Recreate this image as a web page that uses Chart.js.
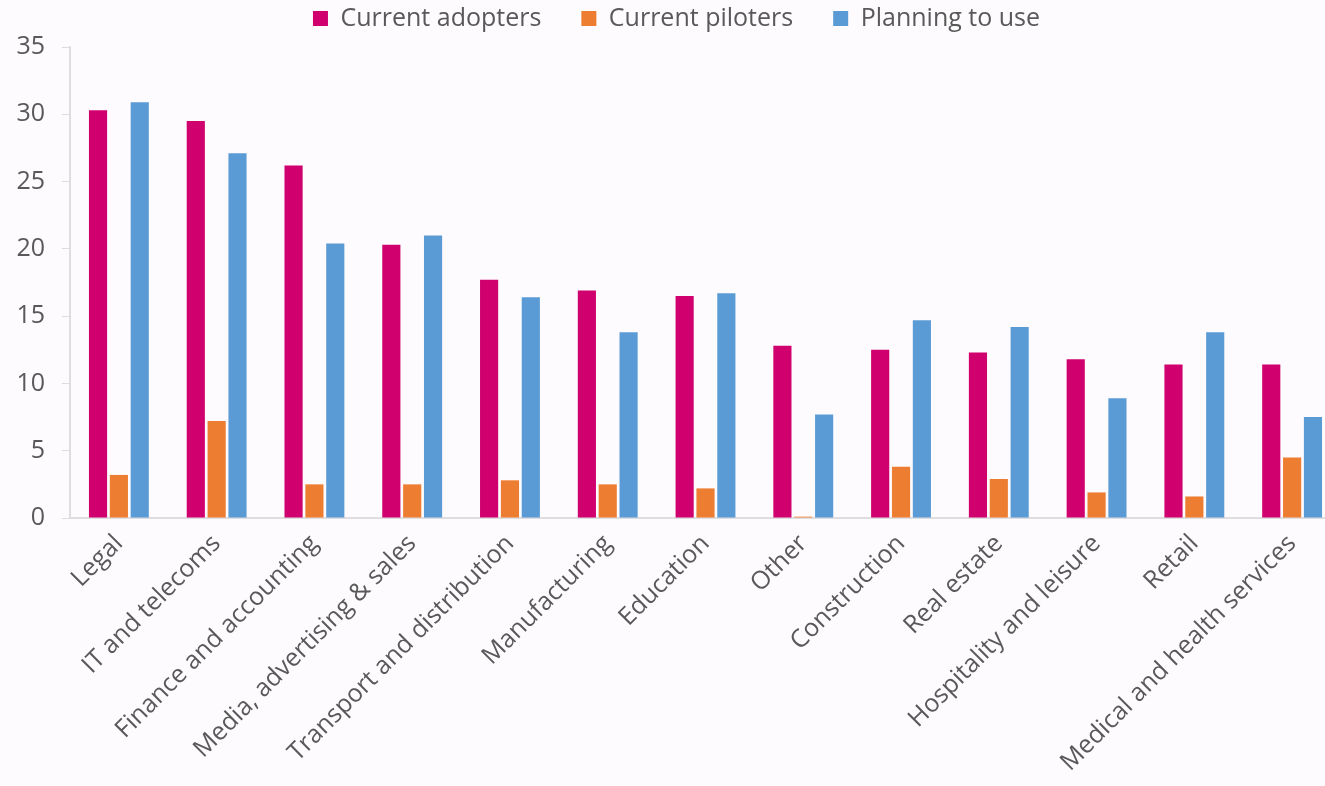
<!DOCTYPE html>
<html>
<head>
<meta charset="utf-8">
<script src="https://cdn.jsdelivr.net/npm/chart.js@4"></script>
<style>
  html, body { margin: 0; padding: 0; background: #fdfbfd; overflow: hidden; }
  /* plot runs a bit past the right edge, like the cropped original */
  #wrap { width: 1341px; height: 786px; }
</style>
</head>
<body>
<div id="wrap"><canvas id="barChart"></canvas></div>
<script>
const categories = ['Legal', 'IT and telecoms', 'Finance and accounting', 'Media, advertising & sales',
    'Transport and distribution', 'Manufacturing', 'Education', 'Other', 'Construction',
    'Real estate', 'Hospitality and leisure', 'Retail', 'Medical and health services'];

const adopters = [30.3, 29.5, 26.2, 20.3, 17.7, 16.9, 16.5, 12.8, 12.5, 12.3, 11.8, 11.4, 11.4];
const piloters = [3.2, 7.2, 2.5, 2.5, 2.8, 2.5, 2.2, 0.1, 3.8, 2.9, 1.9, 1.6, 4.5];
const planning = [30.9, 27.1, 20.4, 21.0, 16.4, 13.8, 16.7, 7.7, 14.7, 14.2, 8.9, 13.8, 7.5];

const yTicks = [0, 5, 10, 15, 20, 25, 30, 35];

const ctx = document.getElementById('barChart').getContext('2d');
const textColor = '#595959';
const fontFamily = "'Open Sans', sans-serif";

// a bit more room under the legend
const legendGap = {
    id: 'legendGap',
    beforeLayout: function(chart) {
        const legend = chart.legend;
        if (legend && !legend._gapPatched) {
            const fit = legend.fit;
            legend.fit = function() {
                fit.call(this);
                this.height += 6;
            };
            legend._gapPatched = true;
        }
    }
};

new Chart(ctx, {
    type: 'bar',
    data: {
        labels: categories,
        datasets: [
            { label: 'Current adopters', data: adopters, backgroundColor: '#d0006f' },
            { label: 'Current piloters', data: piloters, backgroundColor: '#ed7d31' },
            { label: 'Planning to use', data: planning, backgroundColor: '#5b9bd5' }
        ]
    },
    options: {
        responsive: true,
        maintainAspectRatio: false,
        animation: false,
        layout: { padding: { left: 12, right: 0, top: -37, bottom: 0 } },
        datasets: {
            bar: { categoryPercentage: 0.64, barPercentage: 0.87 }
        },
        plugins: {
            legend: {
                position: 'top',
                labels: {
                    color: textColor,
                    font: { family: fontFamily, size: 25 },
                    boxWidth: 15,
                    boxHeight: 15,
                    padding: 40
                }
            },
            tooltip: { enabled: false }
        },
        scales: {
            x: {
                grid: { display: false },
                border: { color: '#e0dde0', width: 2 },
                ticks: {
                    color: textColor,
                    font: { family: fontFamily, size: 25 },
                    minRotation: 45,
                    maxRotation: 45,
                    autoSkip: false
                },
                afterFit: function(scale) {
                    scale.height = 268;
                    scale.paddingRight = 0;
                }
            },
            y: {
                min: 0,
                max: 35,
                afterBuildTicks: function(scale) {
                    scale.ticks = yTicks.map(function(v) { return { value: v }; });
                },
                grid: { drawOnChartArea: false, color: '#dddddd', tickLength: 8 },
                border: { color: '#e0dde0', width: 2 },
                ticks: {
                    color: textColor,
                    font: { family: fontFamily, size: 25 },
                    padding: 17
                },
                afterFit: function(scale) {
                    scale.width = 58;
                    scale.paddingTop = 47;
                }
            }
        }
    },
    plugins: [legendGap]
});
</script>
</body>
</html>
